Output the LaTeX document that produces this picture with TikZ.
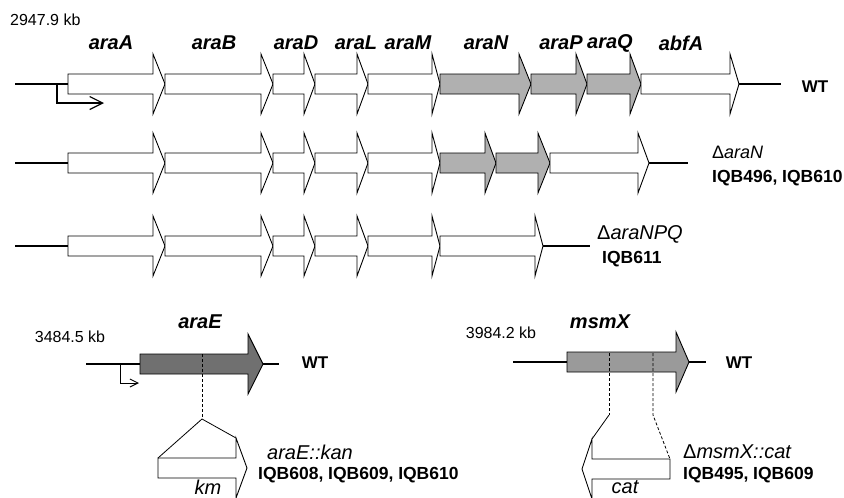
\documentclass[tikz,border=0pt]{standalone}
\usepackage{fontspec}
\setmainfont{Liberation Sans}
\usepackage{xcolor}
\usepackage{tikz}
\usetikzlibrary{arrows.meta}
\definecolor{OperonGrey}{RGB}{176, 176, 176}
\definecolor{AraEGrey}{RGB}{112, 112, 112}
\definecolor{MsmXGrey}{RGB}{154, 154, 154}
\tikzset{
  genebox/.style={draw=black, line width=0.9pt, line join=miter},
  chrom/.style={line width=2.2pt},
  cutline/.style={line width=0.8pt, dash pattern=on 3pt off 2pt},
  joinline/.style={line width=0.8pt},
  promoter/.style={line width=1.2pt, -{Straight Barb[length=13pt, width=13pt, line width=1.2pt]}},
  smallpromoter/.style={line width=1pt, -{Straight Barb[length=8pt, width=8pt, line width=1pt]}},
  genelabel/.style={inner sep=0pt, font=\fontsize{20}{24}\selectfont\bfseries\itshape},
  kblabel/.style={inner sep=0pt, font=\fontsize{16}{19}\selectfont},
  wtlabel/.style={inner sep=0pt, font=\fontsize{17}{20}\selectfont\bfseries},
  mutlabel/.style={inner sep=0pt, anchor=west, font=\fontsize{20}{24}\selectfont\itshape},
  strainlabel/.style={inner sep=0pt, anchor=west, font=\fontsize{17.5}{21}\selectfont\bfseries}
}
% [fill]{start}{head start}{tip}{centre y}
\newcommand{\gene}[5][white]{%
  \filldraw[genebox, fill=#1] (#2,#5-10) -- (#3,#5-10) -- (#3,#5-30) -- (#4,#5)
    -- (#3,#5+30) -- (#3,#5+10) -- (#2,#5+10) -- cycle;}

\begin{document}
\begin{tikzpicture}[x=1pt,y=-1pt]
  \path[use as bounding box] (0,0) rectangle (844,498);
  \clip (0,0) rectangle (844,498);
  \fill[white] (0,0) rectangle (844,498);

  \foreach \y/\t/\e in {84/739/781, 163/649/688, 246/543/590} {
    \draw[chrom] (15,\y) -- (68,\y);
    \draw[chrom] (\t,\y) -- (\e,\y);
    \foreach \s/\h/\p in {68/153/165, 165/261/273, 273/304/315, 315/357/368, 368/432/440}
      \gene{\s}{\h}{\p}{\y};
  }
  \gene[OperonGrey]{440}{519}{531}{84}
  \gene[OperonGrey]{531}{576}{587}{84}
  \gene[OperonGrey]{587}{630}{641}{84}
  \gene{641}{730}{739}{84}
  \gene[OperonGrey]{440}{485}{496}{163}
  \gene[OperonGrey]{496}{538}{550}{163}
  \gene{550}{638}{649}{163}
  \gene{440}{535}{543}{246}

  \coordinate (pA) at (57,84);
  \coordinate (pB) at (57,103);
  \coordinate (pC) at (104,103);
  \draw[promoter] (pA) -- (pB) -- (pC);

  \node[kblabel, anchor=west] (kbAra) at (10,20) {2947.9 kb};
  \foreach \x/\g in {111/araA, 214/araB, 296/araD, 356/araL, 408/araM, 486/araN, 561/araP, 610/araQ, 681/abfA}
    \node[genelabel] (lab\g) at (\x,43) {\g};
  \node[wtlabel] (wtAra) at (815,87) {WT};
  \node[mutlabel, font=\fontsize{18}{22}\selectfont\itshape] (mutN) at (712,152) {\textup{Δ}araN};
  \node[strainlabel] (strN) at (712,178) {IQB496, IQB610};
  \node[mutlabel] (mutNPQ) at (597,234) {\textup{Δ}araNPQ};
  \node[strainlabel] (strNPQ) at (602,259) {IQB611};

  \draw[chrom] (86,364) -- (140,364);
  \draw[chrom] (263,364) -- (279,364);
  \gene[AraEGrey]{140}{248}{263}{364}
  \coordinate (eA) at (120,364);
  \coordinate (eB) at (120,383);
  \coordinate (eC) at (139,383);
  \draw[smallpromoter] (eA) -- (eB) -- (eC);
  \node[kblabel] (kbAraE) at (70,337) {3484.5 kb};
  \node[genelabel] (labaraE) at (200,322) {araE};
  \node[wtlabel] (wtAraE) at (315,363) {WT};
  \gene{158}{236}{247}{468}
  \coordinate (eCut) at (202,354);
  \coordinate (eJoin) at (202,419);
  \coordinate (kmL) at (158,458);
  \coordinate (kmR) at (236,438);
  \draw[cutline] (eCut) -- (eJoin);
  \draw[joinline] (kmL) -- (eJoin) -- (kmR);
  \node[genelabel, font=\fontsize{20}{24}\selectfont\itshape] (labkm) at (208,487) {km};
  \node[mutlabel] (mutE) at (267,452) {araE::kan};
  \node[strainlabel] (strE) at (258,475) {IQB608, IQB609, IQB610};

  \draw[chrom] (513,362) -- (567,362);
  \draw[chrom] (689,362) -- (706,362);
  \gene[MsmXGrey]{567}{676}{689}{362}
  \node[kblabel] (kbMsmX) at (501,333) {3984.2 kb};
  \node[genelabel] (labmsmX) at (600,322) {msmX};
  \node[wtlabel] (wtMsmX) at (739,363) {WT};
  \gene{670}{592}{582}{469}
  \coordinate (xCutL) at (609,353);
  \coordinate (xCutR) at (653,353);
  \coordinate (xJoinL) at (609,415);
  \coordinate (xJoinR) at (653,415);
  \coordinate (catL) at (592,439);
  \coordinate (catR) at (670,459);
  \draw[cutline] (xCutL) -- (xJoinL);
  \draw[cutline] (xCutR) -- (xJoinR) -- (catR);
  \draw[joinline] (xJoinL) -- (catL);
  \node[genelabel, font=\fontsize{20}{24}\selectfont\itshape] (labcat) at (625,487) {cat};
  \node[mutlabel] (mutX) at (683,452) {\textup{Δ}msmX::cat};
  \node[strainlabel] (strX) at (683,475) {IQB495, IQB609};
\end{tikzpicture}
\end{document}
